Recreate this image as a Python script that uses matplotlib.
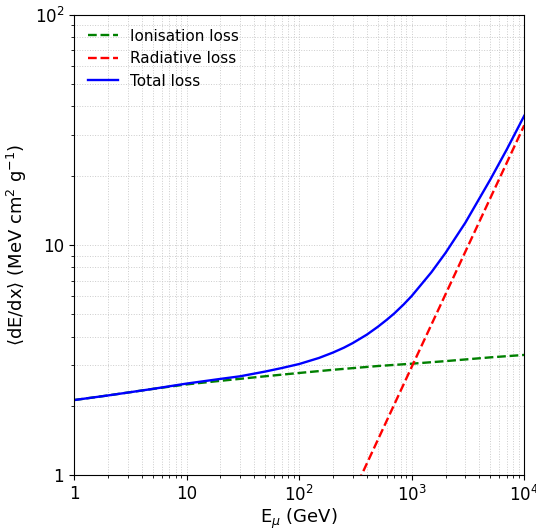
import numpy as np
import matplotlib.pyplot as plt
from matplotlib.ticker import NullFormatter

# values (GeV, MeV cm^2/g)
e_ion = [1, 2, 5, 10, 20, 50, 100, 200, 500, 1000, 2000, 5000, 10000]
ion_loss = [2.12, 2.22, 2.37, 2.48, 2.57, 2.69, 2.78, 2.87, 2.98, 3.05, 3.13, 3.25, 3.33]

e_rad = [300, 1000, 3000, 10000]
rad_loss = [0.83, 2.95, 9.35, 33.1]

e_tot = [1, 2, 5, 10, 20, 30, 50, 70, 100, 150, 200, 250, 300, 400, 500, 600, 700, 850,
         1000, 1500, 2000, 3000, 5000, 7000, 10000]
tot_loss = [2.12, 2.22, 2.37, 2.50, 2.62, 2.69, 2.82, 2.92, 3.04, 3.23, 3.41, 3.58, 3.75, 4.08, 4.41, 4.73, 5.04, 5.52,
            6.0, 7.62, 9.24, 12.5, 19.25, 26.0, 36.4]

xticks = [1, 10, 100, 1000, 10000]
xlabels = ['1', '10', '10$^2$', '10$^3$', '10$^4$']
yticks = [1, 10, 100]
ylabels = ['1', '10', '10$^2$']

fig = plt.figure(figsize=(5.36, 5.28), dpi=100)
ax = fig.add_axes([0.138, 0.100, 0.840, 0.872])

ax.plot(e_ion, ion_loss, '--', color='green', lw=1.7, label='Ionisation loss')
ax.plot(e_rad, rad_loss, '--', color='red', lw=1.7, label='Radiative loss')
ax.plot(e_tot, tot_loss, '-', color='blue', lw=1.7, label='Total loss')

ax.set_xscale('log')
ax.set_yscale('log')
ax.set_xlim(1, 1e4)
ax.set_ylim(1, 100)
ax.set_xticks(xticks, xlabels)
ax.set_yticks(yticks, ylabels)
ax.xaxis.set_minor_formatter(NullFormatter())
ax.yaxis.set_minor_formatter(NullFormatter())
ax.tick_params(labelsize=12)

ax.grid(True, which='both', linestyle=':', color='#cccccc', linewidth=0.7)

ax.set_xlabel(r'E$_\mu$ (GeV)', fontsize=13, labelpad=1)
ax.set_ylabel(r'$\langle$dE/dx$\rangle$ (MeV cm$^2$ g$^{-1}$)', fontsize=13)
ax.legend(loc='upper left', frameon=False, fontsize=11)

fig.savefig('out.png')
